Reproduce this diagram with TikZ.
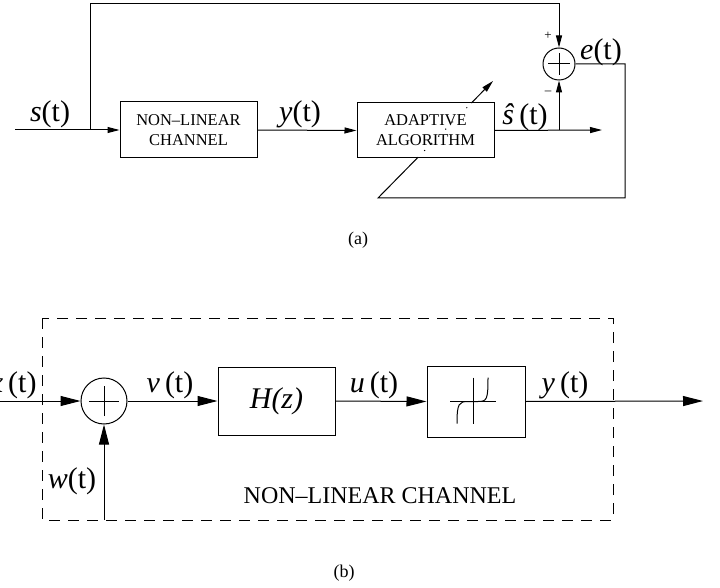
\documentclass[tikz,border=0pt]{standalone}
\usepackage{fontspec}
\setmainfont{Liberation Serif}
\usetikzlibrary{arrows.meta, positioning, calc}
\tikzset{blk/.style={rectangle,draw,line width=1pt,inner sep=0pt,align=center},
  sumnode/.style={circle,draw,line width=1pt,inner sep=0pt},
  line/.style={-{Triangle[length=12pt,width=6pt]},line width=1pt},
  bigline/.style={-{Triangle[length=20pt,width=10pt]},line width=1pt},
  lbl/.style={font=\fontsize{30}{32}\selectfont,inner sep=0pt,anchor=base},
  chbox/.style={line width=1pt,dash pattern=on 11pt off 8pt}}

\begin{document}
\begin{tikzpicture}[x=1pt,y=-1pt,line width=1pt]
\useasboundingbox (0,0) rectangle (720,588);

% (a) adaptive equalizer loop
\node[blk,minimum width=137pt,minimum height=56pt,font=\fontsize{16.5}{20}\selectfont] (chan) at (188.5,130) {NON--LINEAR\\CHANNEL};
\node[blk,minimum width=137pt,minimum height=55pt,font=\fontsize{16.5}{20}\selectfont] (adapt) at (425.5,130.5) {ADAPTIVE\\ALGORITHM};
\node[sumnode,minimum size=32pt] (sum1) at (559,64) {};
\draw ([xshift=-11pt]sum1.center) -- ([xshift=11pt]sum1.center);
\draw ([yshift=-11pt]sum1.center) -- ([yshift=11pt]sum1.center);

\coordinate (in) at (15,130);
\coordinate (split) at (90,130);
\coordinate (fb) at (90,4);
\coordinate (tap) at (559,130);
\coordinate (out) at (602,130);
\coordinate (eR) at (625,64);
\coordinate (eB) at (625,198);
\coordinate (eL) at (378,198);
\coordinate (adj) at (493,81);

\draw[line] (in) -- (chan.west);
\draw[line] (split) -- (fb) -| (sum1.north);
\draw[line] (chan.east) -- (adapt.west);
\draw[line] (adapt.east) -- (out);
\draw[line] (tap) -- (sum1.south);
\draw (sum1.east) -- (eR) -- (eB) -- (eL) -- ($(eL)!0.342!(adj)$);
\draw[dash pattern=on 1pt off 9pt] ($(eL)!0.342!(adj)$) -- ($(eL)!0.812!(adj)$);
\draw[line] ($(eL)!0.812!(adj)$) -- (adj);

\node[lbl] (sl) at (50,122) {\textit{s}(t)};
\node[lbl] (yl) at (300,122) {\textit{y}(t)};
\node[lbl] (shl) at (525,125) {\textit{\^s}\,(t)};
\node[lbl] (el) at (601,60) {\textit{e}(t)};
\node[font=\fontsize{13}{14}\selectfont,inner sep=0pt] (plus) at (548,36) {+};
\node[font=\fontsize{13}{14}\selectfont,inner sep=0pt] (minus) at (548,93) {--};
\node[font=\fontsize{18}{20}\selectfont,inner sep=0pt] (capa) at (358,240) {(a)};

% (b) channel model
\draw[chbox] (42,318) rectangle (613,520);
\node[sumnode,minimum size=46pt] (sum2) at (104,401) {};
\draw ([xshift=-15pt]sum2.center) -- ([xshift=15pt]sum2.center);
\draw ([yshift=-15pt]sum2.center) -- ([yshift=15pt]sum2.center);
\node[blk,minimum width=117pt,minimum height=68pt,font=\fontsize{30}{32}\selectfont] (hz) at (276.5,401) {\textit{H(z)}};
\node[blk,minimum width=98pt,minimum height=71pt] (nl) at (476,401.5) {};
\begin{scope}[shift={(nl.center)}]
\draw (-26,0) -- (20,0);
\draw (-3,-24) -- (-3,22);
\draw (-19,22) .. controls (-19,2) and (-17,0) .. (-8,0) -- (2,0) .. controls (11,0) and (12,-2) .. (12,-24);
\end{scope}

\coordinate (xin) at (0,401);
\coordinate (yout) at (703,401);
\coordinate (win) at (104,520);

\draw[bigline] (xin) -- (sum2.west);
\draw[bigline] (sum2.east) -- (hz.west);
\draw[bigline] (hz.east) -- (nl.west);
\draw[bigline] (nl.east) -- (yout);
\draw[bigline] (win) -- (sum2.south);

\node[lbl,anchor=base east] (xl) at (37,392) {\textit{x}\,(t)};
\node[lbl] (vl) at (170,392) {\textit{v}\,(t)};
\node[lbl] (ul) at (374,392) {\textit{u}\,(t)};
\node[lbl] (yl2) at (565,392) {\textit{y}\,(t)};
\node[lbl] (wl) at (72,488) {\textit{w}(t)};
\node[lbl,font=\fontsize{24}{26}\selectfont] (chl) at (380,503) {NON--LINEAR CHANNEL};
\node[font=\fontsize{18}{20}\selectfont,inner sep=0pt] (capb) at (344,573) {(b)};
\end{tikzpicture}
\end{document}
